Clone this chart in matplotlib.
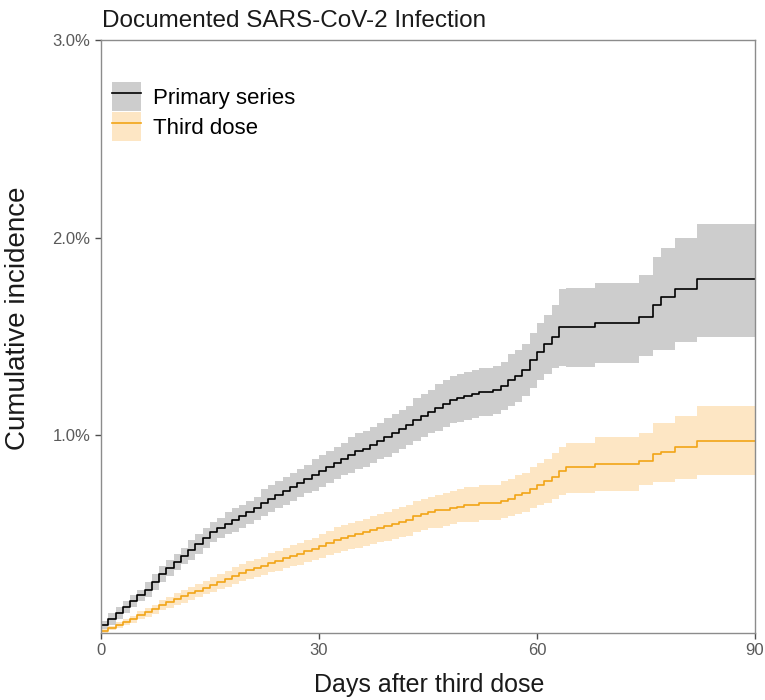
import matplotlib
matplotlib.use('Agg')
import matplotlib.pyplot as plt
from matplotlib.patches import Patch
from matplotlib.lines import Line2D
from matplotlib.legend_handler import HandlerTuple

plt.rcParams['font.family'] = ['Liberation Sans', 'DejaVu Sans']

days = list(range(91))

# cumulative incidence (%) per day, primary series
primary = [0.04, 0.07, 0.10, 0.13, 0.16, 0.19, 0.22, 0.26, 0.30, 0.33,
           0.36, 0.39, 0.42, 0.45, 0.48, 0.51, 0.53, 0.55, 0.57, 0.59,
           0.61, 0.63, 0.66, 0.68, 0.70, 0.72, 0.74, 0.76, 0.78, 0.80,
           0.82, 0.84, 0.86, 0.88, 0.90, 0.92, 0.93, 0.95, 0.97, 0.99,
           1.01, 1.03, 1.05, 1.08, 1.10, 1.12, 1.14, 1.16, 1.18, 1.19,
           1.20, 1.21, 1.22, 1.22, 1.23, 1.25, 1.28, 1.30, 1.33, 1.38,
           1.42, 1.46, 1.50, 1.55, 1.55, 1.55, 1.55, 1.55, 1.57, 1.57,
           1.57, 1.57, 1.57, 1.57, 1.60, 1.60, 1.66, 1.70, 1.70, 1.74,
           1.74, 1.74, 1.79, 1.79, 1.79, 1.79, 1.79, 1.79, 1.79, 1.79,
           1.79]
primary_lo = [0.02, 0.04, 0.07, 0.10, 0.13, 0.16, 0.18, 0.22, 0.26, 0.29,
              0.32, 0.35, 0.37, 0.40, 0.43, 0.46, 0.48, 0.50, 0.51, 0.53,
              0.55, 0.57, 0.59, 0.61, 0.63, 0.65, 0.67, 0.69, 0.71, 0.72,
              0.74, 0.76, 0.78, 0.80, 0.81, 0.83, 0.84, 0.86, 0.88, 0.89,
              0.91, 0.93, 0.95, 0.97, 0.99, 1.01, 1.02, 1.04, 1.06, 1.07,
              1.08, 1.09, 1.10, 1.10, 1.11, 1.13, 1.15, 1.17, 1.20, 1.24,
              1.28, 1.31, 1.34, 1.35, 1.345, 1.345, 1.345, 1.345, 1.365, 1.365,
              1.365, 1.365, 1.365, 1.365, 1.40, 1.40, 1.43, 1.43, 1.43, 1.47,
              1.47, 1.47, 1.50, 1.50, 1.50, 1.50, 1.50, 1.50, 1.50, 1.50,
              1.50]
primary_hi = [0.06, 0.10, 0.13, 0.16, 0.19, 0.22, 0.26, 0.30, 0.34, 0.37,
              0.40, 0.43, 0.47, 0.50, 0.53, 0.56, 0.58, 0.61, 0.63, 0.65,
              0.67, 0.69, 0.73, 0.75, 0.77, 0.79, 0.81, 0.83, 0.85, 0.88,
              0.90, 0.92, 0.94, 0.96, 0.99, 1.01, 1.02, 1.04, 1.06, 1.09,
              1.11, 1.13, 1.15, 1.19, 1.21, 1.23, 1.26, 1.28, 1.30, 1.31,
              1.32, 1.33, 1.34, 1.34, 1.35, 1.37, 1.41, 1.43, 1.46, 1.52,
              1.57, 1.61, 1.66, 1.74, 1.745, 1.745, 1.745, 1.745, 1.77, 1.77,
              1.77, 1.77, 1.77, 1.77, 1.81, 1.81, 1.90, 1.95, 1.95, 2.00,
              2.00, 2.00, 2.07, 2.07, 2.07, 2.07, 2.07, 2.07, 2.07, 2.07,
              2.07]

# third dose
third = [0.01, 0.025, 0.04, 0.055, 0.07, 0.09, 0.105, 0.12, 0.14, 0.155,
         0.17, 0.185, 0.20, 0.215, 0.23, 0.245, 0.26, 0.275, 0.29, 0.305,
         0.32, 0.33, 0.34, 0.355, 0.365, 0.38, 0.39, 0.40, 0.415, 0.425,
         0.44, 0.455, 0.47, 0.48, 0.49, 0.50, 0.51, 0.52, 0.53, 0.54,
         0.55, 0.56, 0.57, 0.59, 0.60, 0.61, 0.62, 0.62, 0.63, 0.64,
         0.65, 0.65, 0.66, 0.66, 0.66, 0.67, 0.68, 0.70, 0.71, 0.73,
         0.75, 0.77, 0.79, 0.82, 0.84, 0.84, 0.84, 0.84, 0.855, 0.855,
         0.855, 0.855, 0.855, 0.855, 0.87, 0.87, 0.905, 0.915, 0.915, 0.94,
         0.94, 0.94, 0.97, 0.97, 0.97, 0.97, 0.97, 0.97, 0.97, 0.97,
         0.97]
third_lo = [0.00, 0.013, 0.026, 0.039, 0.052, 0.07, 0.083, 0.096, 0.114, 0.127,
            0.14, 0.154, 0.168, 0.182, 0.195, 0.209, 0.222, 0.235, 0.248, 0.262,
            0.275, 0.284, 0.293, 0.307, 0.315, 0.329, 0.337, 0.345, 0.359, 0.367,
            0.38, 0.393, 0.406, 0.414, 0.423, 0.432, 0.441, 0.45, 0.458, 0.467,
            0.475, 0.484, 0.493, 0.512, 0.52, 0.53, 0.53, 0.54, 0.55, 0.56,
            0.56, 0.56, 0.57, 0.57, 0.57, 0.58, 0.59, 0.60, 0.61, 0.63,
            0.65, 0.66, 0.68, 0.70, 0.71, 0.71, 0.71, 0.71, 0.72, 0.72,
            0.72, 0.72, 0.72, 0.72, 0.75, 0.75, 0.765, 0.765, 0.765, 0.78,
            0.78, 0.78, 0.80, 0.80, 0.80, 0.80, 0.80, 0.80, 0.80, 0.80,
            0.80]
third_hi = [0.02, 0.037, 0.054, 0.071, 0.088, 0.11, 0.127, 0.144, 0.166, 0.183,
            0.20, 0.216, 0.232, 0.248, 0.265, 0.281, 0.298, 0.315, 0.332, 0.348,
            0.365, 0.376, 0.387, 0.403, 0.415, 0.431, 0.443, 0.455, 0.471, 0.483,
            0.50, 0.517, 0.534, 0.546, 0.557, 0.568, 0.579, 0.59, 0.602, 0.613,
            0.625, 0.636, 0.647, 0.668, 0.68, 0.69, 0.70, 0.71, 0.72, 0.73,
            0.74, 0.74, 0.75, 0.75, 0.75, 0.77, 0.78, 0.80, 0.81, 0.84,
            0.86, 0.88, 0.91, 0.94, 0.96, 0.96, 0.96, 0.96, 0.99, 0.99,
            0.99, 0.99, 0.99, 0.99, 1.01, 1.01, 1.06, 1.06, 1.06, 1.10,
            1.10, 1.10, 1.15, 1.15, 1.15, 1.15, 1.15, 1.15, 1.15, 1.15,
            1.15]

x_ticks = [0, 30, 60, 90]
y_ticks = [1, 2, 3]
y_ticklabels = ['1.0%', '2.0%', '3.0%']

gray_fill = '#cdcdcd'
orange_fill = '#fde6c4'
orange_line = '#f2a516'

fig = plt.figure(figsize=(7.65, 7.0), dpi=100)
ax = fig.add_axes([0.132, 0.0957, 0.8549, 0.8471])

ax.fill_between(days, primary_lo, primary_hi, step='post', color=gray_fill, lw=0)
ax.fill_between(days, third_lo, third_hi, step='post', color=orange_fill, lw=0)
ax.step(days, primary, where='post', color='black', lw=1.2)
ax.step(days, third, where='post', color=orange_line, lw=1.2)

ax.set_xlim(0, 90)
ax.set_ylim(0, 3)
ax.set_xticks(x_ticks)
ax.set_yticks(y_ticks)
ax.set_yticklabels(y_ticklabels)
ax.tick_params(length=4, width=1, color='#4d4d4d', labelcolor='#5a5a5a',
               labelsize=12, pad=3.5)
for s in ax.spines.values():
    s.set_color('#8c8c8c')
    s.set_linewidth(1)

h1 = (Patch(facecolor=gray_fill, edgecolor='none'), Line2D([], [], color='black', lw=1.2))
h2 = (Patch(facecolor=orange_fill, edgecolor='none'), Line2D([], [], color=orange_line, lw=1.2))
ax.legend([h1, h2], ['Primary series', 'Third dose'],
          handler_map={tuple: HandlerTuple(ndivide=1, pad=0)},
          loc='upper left', bbox_to_anchor=(0.017, 0.929), frameon=False,
          fontsize=16, handlelength=1.3, handleheight=1.63, handletextpad=0.55,
          labelspacing=0.05, borderpad=0, borderaxespad=0)

fig.text(102 / 765, 1 - 27 / 700, 'Documented SARS-CoV-2 Infection',
         fontsize=17.5, color='#1a1a1a', ha='left', va='baseline')
fig.text(429 / 765, 1 - 692 / 700, 'Days after third dose',
         fontsize=18, color='#1a1a1a', ha='center', va='baseline')
fig.text(18 / 765, 1 - 318 / 700, 'Cumulative incidence', rotation=90,
         fontsize=20, color='#1a1a1a', ha='center', va='center')

fig.savefig('out.png', dpi=100)
